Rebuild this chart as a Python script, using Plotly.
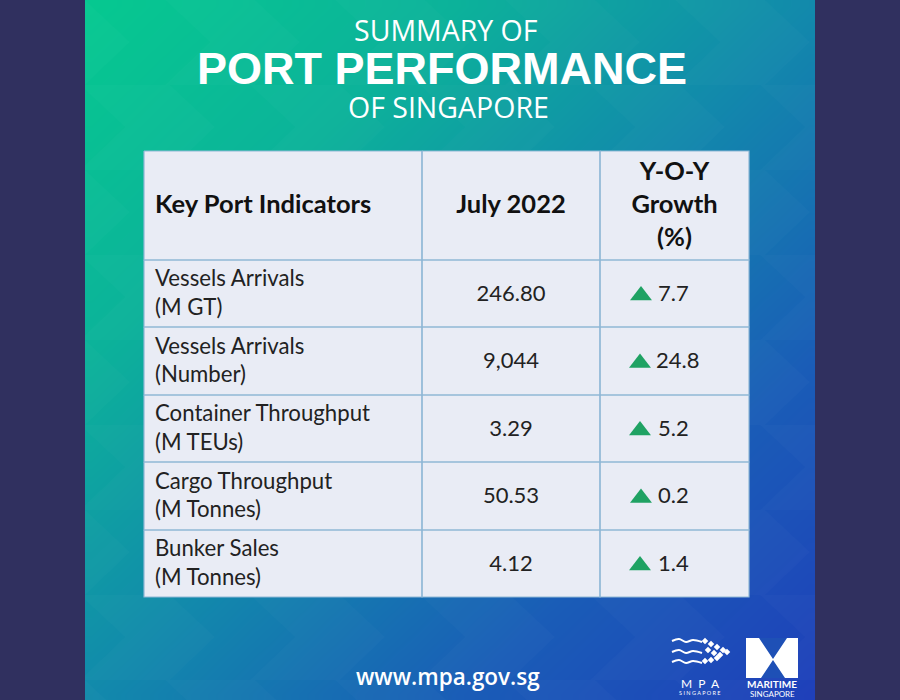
import numpy as np
import plotly.graph_objects as go

# table contents
indicators = ['Vessels Arrivals<br>(M GT)', 'Vessels Arrivals<br>(Number)', 'Container Throughput<br>(M TEUs)',
              'Cargo Throughput<br>(M Tonnes)', 'Bunker Sales<br>(M Tonnes)']
july_2022 = ['246.80', '9,044', '3.29', '50.53', '4.12']
growth = ['7.7', '24.8', '5.2', '0.2', '1.4']
headers = ['Key Port Indicators', 'July 2022', 'Y-O-Y<br>Growth<br>(%)']

# table grid, in page pixels
col_edges = [144, 422, 600, 749]
row_edges = [151, 260, 327, 395, 462, 530, 597]
arrow_x = [641, 640, 640, 641, 640]
growth_x = [658, 656, 658, 658, 658]

panel_left, panel_right = 85, 815
font = 'Lato'
navy = '#30305F'
cell_bg = '#E9ECF5'
grid_col = '#8FB7D6'
green = '#1FA263'

fig = go.Figure()

# panel background gradient, green top left to blue bottom right
gx = np.linspace(panel_left, panel_right, 61)
gy = np.linspace(0, 700, 61)
gz = (gx[:-1][None, :] - panel_left) / 730 + gy[:-1][:, None] / 700
fig.add_trace(go.Heatmap(x=gx, y=gy, z=gz, zsmooth='best', showscale=False, hoverinfo='skip', zmin=0, zmax=2,
                         colorscale=[[0, '#06C890'], [0.25, '#0CB29A'], [0.5, '#1288AC'],
                                     [0.75, '#1A5CB7'], [1, '#1F3EBA']]))

# faint chevrons behind everything
cx, cy = [], []
for row in range(-1, 9):
    for col in range(0, 5):
        x0 = panel_left + 170 * col + (0 if row % 2 == 0 else 85) - 90
        y0 = 85 * row
        cx += [x0, x0 + 90, x0 + 135, x0 + 90, x0, x0 + 45, x0, None]
        cy += [y0, y0, y0 + 42, y0 + 85, y0 + 85, y0 + 42, y0, None]
fig.add_trace(go.Scatter(x=cx, y=cy, mode='none', fill='toself', fillcolor='rgba(255,255,255,0.018)', hoverinfo='skip'))

# side bars so chevrons don't spill out of the panel
for bx in [[0, panel_left], [panel_right, 900]]:
    fig.add_trace(go.Scatter(x=[bx[0], bx[1], bx[1], bx[0], bx[0]], y=[0, 0, 700, 700, 0], mode='none',
                             fill='toself', fillcolor=navy, hoverinfo='skip'))

# table cells
tx, ty = [], []
for c in range(len(col_edges) - 1):
    for r in range(len(row_edges) - 1):
        tx += [col_edges[c], col_edges[c + 1], col_edges[c + 1], col_edges[c], col_edges[c], None]
        ty += [row_edges[r], row_edges[r], row_edges[r + 1], row_edges[r + 1], row_edges[r], None]
fig.add_trace(go.Scatter(x=tx, y=ty, mode='lines', fill='toself', fillcolor=cell_bg,
                         line=dict(color=grid_col, width=1.2), hoverinfo='skip'))

row_mid = [(row_edges[i] + row_edges[i + 1]) / 2 for i in range(len(row_edges) - 1)]
col_mid = [(col_edges[i] + col_edges[i + 1]) / 2 for i in range(len(col_edges) - 1)]
text_y = [m + 1 for m in row_mid]
num_y = [m + 1.5 for m in row_mid]

# header row
fig.add_trace(go.Scatter(x=[155], y=[text_y[0]], mode='text', text=[headers[0]], textposition='middle right',
                         textfont=dict(family=font, size=25.5, color='#111111', weight='bold'), hoverinfo='skip'))
fig.add_trace(go.Scatter(x=col_mid[1:], y=[text_y[0]] * 2, mode='text', text=headers[1:], textposition='middle center',
                         textfont=dict(family=font, size=25.5, color='#111111', weight='bold'), hoverinfo='skip'))

# body rows
fig.add_trace(go.Scatter(x=[155] * 5, y=[m + 1.5 for m in row_mid[1:]], mode='text', text=indicators, textposition='middle right',
                         textfont=dict(family=font, size=22.2, color='#222222'), hoverinfo='skip'))
fig.add_trace(go.Scatter(x=[col_mid[1]] * 5, y=num_y[1:], mode='text', text=july_2022, textposition='middle center',
                         textfont=dict(family=font, size=22, color='#222222'), hoverinfo='skip'))
fig.add_trace(go.Scatter(x=growth_x, y=num_y[1:], mode='text', text=growth, textposition='middle right',
                         textfont=dict(family=font, size=22, color='#222222'), hoverinfo='skip'))
fig.add_trace(go.Scatter(x=arrow_x, y=[m + 2 for m in row_mid[1:]], mode='markers',
                         marker=dict(symbol='triangle-up', size=19, color=green), hoverinfo='skip'))

# MPA waves and the M logo
for wy in [641, 652, 662]:
    fig.add_trace(go.Scatter(x=[672, 679, 686, 693, 702], y=[wy, wy - 2, wy + 1, wy - 1, wy + 1], mode='lines',
                             line=dict(color='white', width=2, shape='spline'), hoverinfo='skip'))
fig.add_trace(go.Scatter(x=[705, 711, 717, 723, 727, 708, 714, 720, 705, 711, 717], y=[641, 644, 647, 650, 652, 650, 653, 655, 661, 660, 658],
                         mode='markers', marker=dict(color='white', size=5, symbol='diamond'), hoverinfo='skip'))
fig.add_trace(go.Scatter(x=[746, 798, 798, 746, 746], y=[638, 638, 678, 678, 638], mode='lines', fill='toself',
                         fillcolor='white', line=dict(color='white', width=0), hoverinfo='skip'))
fig.add_trace(go.Scatter(x=[759, 787, 773, 759, None, 761, 785, 773, 761], y=[638, 638, 659, 638, None, 678, 678, 660, 678],
                         mode='lines', fill='toself', fillcolor='#1E50B6', line=dict(width=0), hoverinfo='skip'))

# page text
def label(x, y, text, size, weight='normal', color='white', fam=font):
    fig.add_annotation(x=x, y=y, text=text, showarrow=False, xanchor='center', yanchor='middle',
                       font=dict(family=fam, size=size, color=color, weight=weight))

label(446, 30, 'SUMMARY OF', 28.5, fam='Open Sans')
label(442, 68, 'PORT PERFORMANCE', 45, 'bold', fam='Liberation Sans')
label(448, 107, 'OF SINGAPORE', 28.5, fam='Open Sans')
label(448, 676, 'www.mpa.gov.sg', 22.5, 600, fam='Open Sans')
label(700, 683.5, 'M  P  A', 12)
label(700, 693, 'S I N G A P O R E', 5.5)
label(772, 683.5, 'MARITIME', 10, 'bold')
label(772, 694, 'SINGAPORE', 8)

fig.update_layout(width=900, height=700, margin=dict(l=0, r=0, t=0, b=0), paper_bgcolor=navy, plot_bgcolor=navy,
                  showlegend=False,
                  xaxis=dict(range=[0, 900], visible=False, fixedrange=True),
                  yaxis=dict(range=[700, 0], visible=False, fixedrange=True))

# page body has a default margin that shifts the chart otherwise
fig.write_html("out.html", config=dict(displayModeBar=False),
               post_script="document.body.style.margin='0';document.body.style.overflow='hidden';")
